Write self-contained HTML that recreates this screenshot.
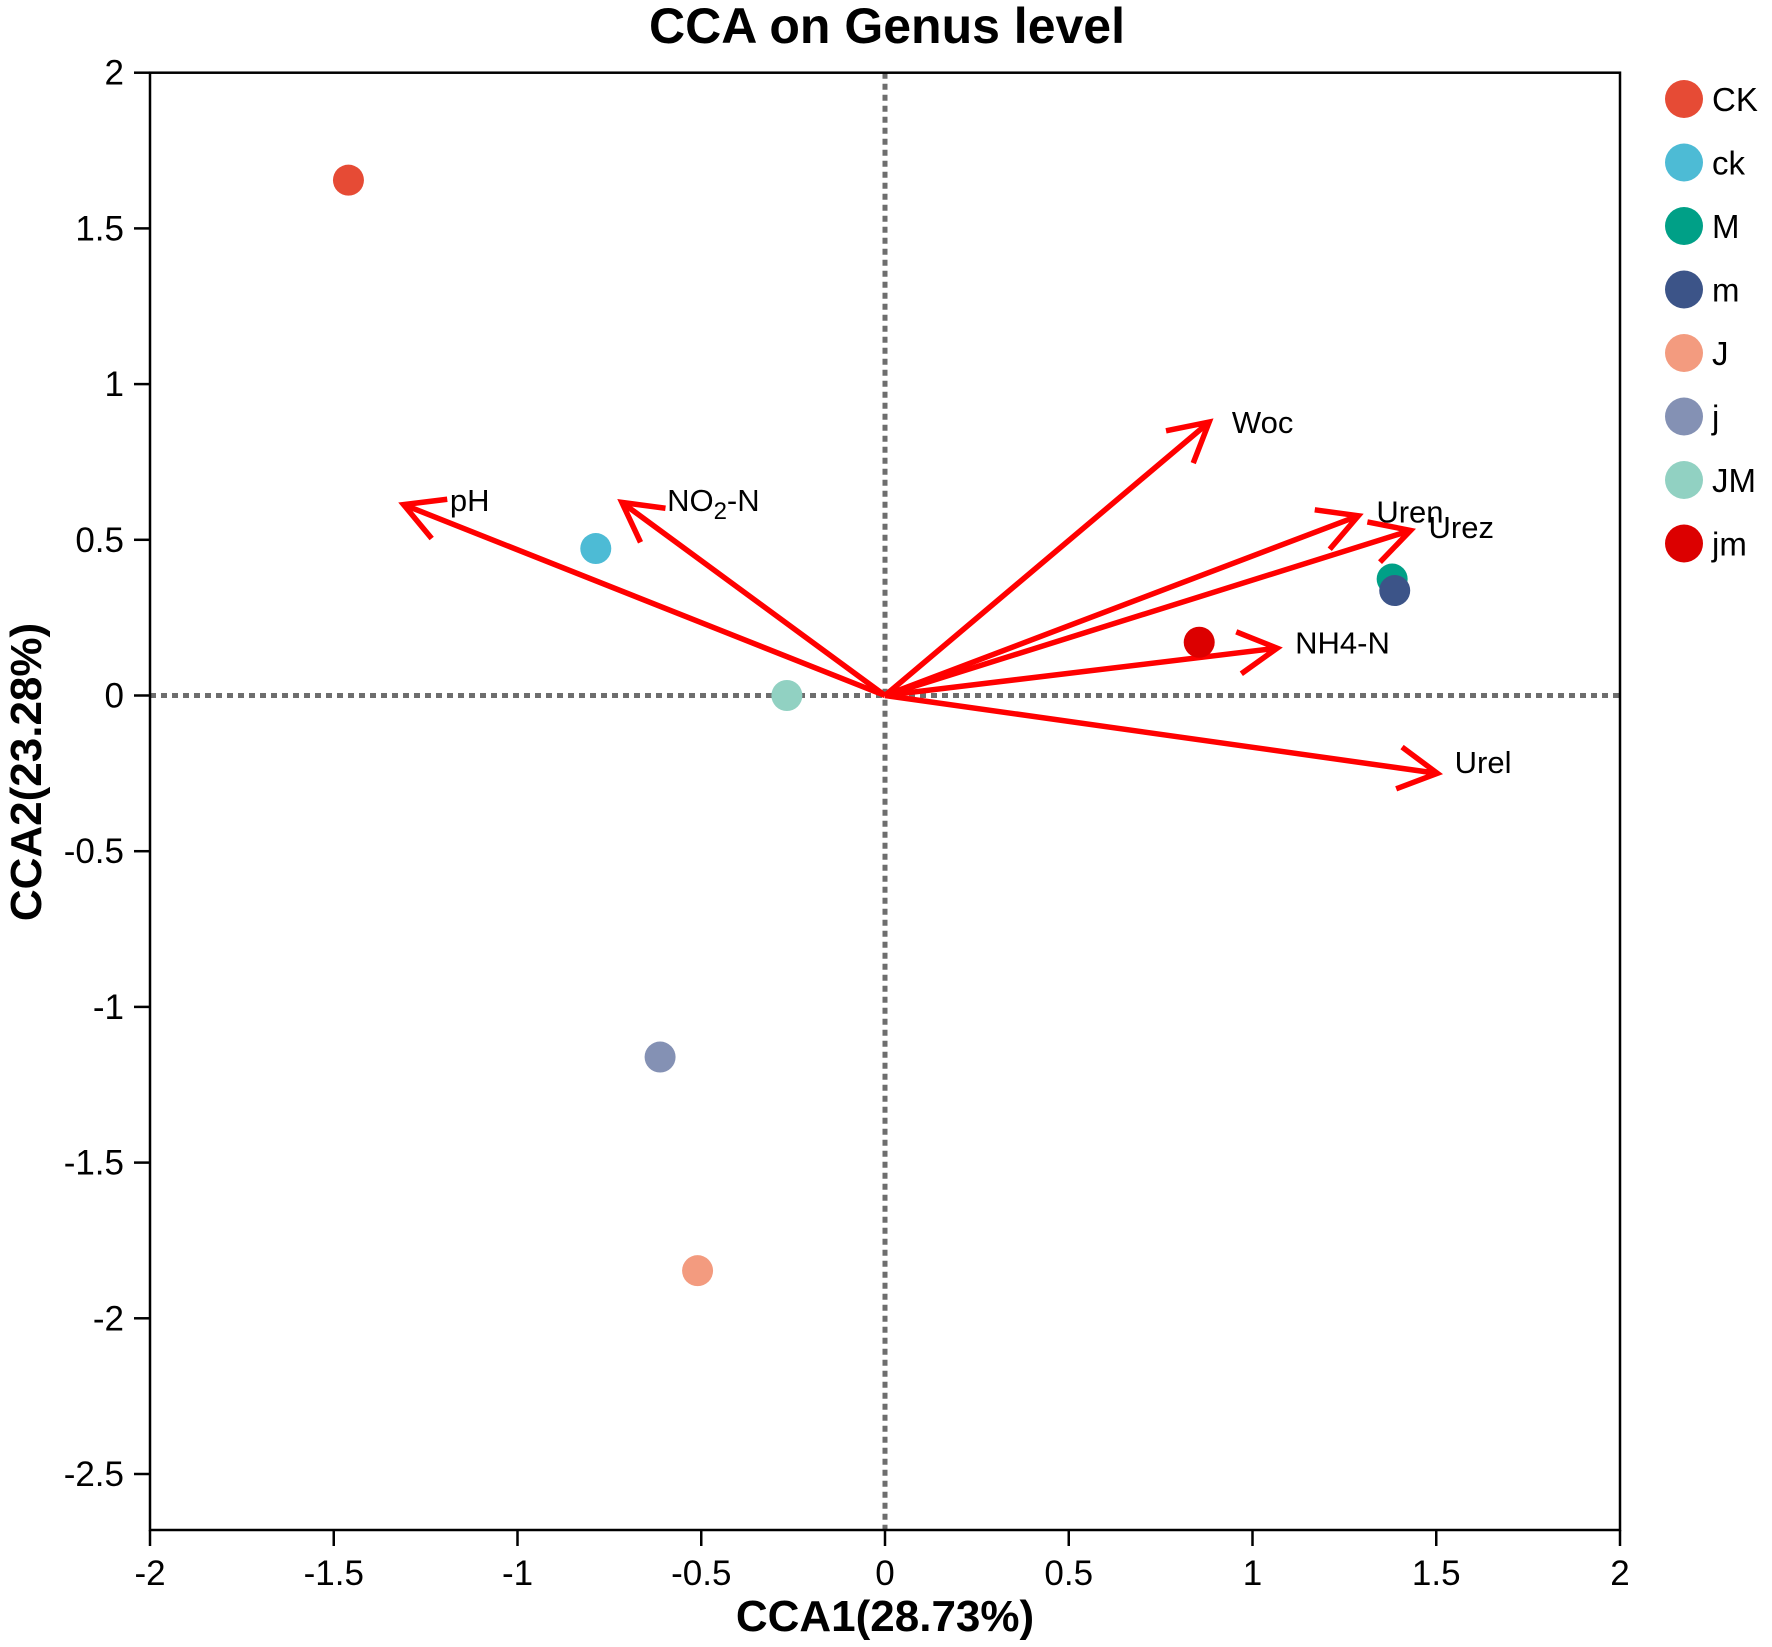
<!DOCTYPE html>
<html><head><meta charset="utf-8"><style>
html,body{margin:0;padding:0;background:#fff;}
svg{display:block;font-family:"Liberation Sans",Arial,sans-serif;}
</style></head><body>
<svg id="chart" width="1772" height="1647" viewBox="0 0 1772 1647" xmlns="http://www.w3.org/2000/svg">
<text x="887" y="43" text-anchor="middle" font-size="50" font-weight="bold">CCA on Genus level</text>
<g id="grid"></g>
<g id="axes"></g>
<g id="arrows"></g>
<g id="points"></g>
<g id="legend"></g>
<text x="885" y="1631" text-anchor="middle" font-size="44" font-weight="bold">CCA1(28.73%)</text>
<text x="0" y="0" transform="translate(41,772) rotate(-90)" text-anchor="middle" font-size="44" font-weight="bold">CCA2(23.28%)</text>
</svg>
<script>
const sampleNames = ["CK","ck","M","m","J","j","JM","jm"];
const sampleColors = ["#e64b35","#4dbbd5","#00a087","#3c5488","#f39b7f","#8491b4","#91d1c2","#dc0000"];
const sampleX = [-1.46,-0.787,1.38,1.387,-0.51,-0.612,-0.267,0.855];
const sampleY = [1.655,0.472,0.374,0.337,-1.847,-1.161,0.0,0.171];
const envNames = ["pH","NO2-N","Woc","Uren","Urez","NH4-N","Urel"];
const envX = [-1.31,-0.716,0.882,1.288,1.43,1.067,1.503];
const envY = [0.613,0.62,0.878,0.577,0.53,0.152,-0.25];
const envLabelX = [-1.184,-0.593,0.944,1.337,1.479,1.116,1.55];
const envLabelY = [0.628,0.628,0.878,0.591,0.541,0.171,-0.214];
const xTicks = [-2,-1.5,-1,-0.5,0,0.5,1,1.5,2];
const yTicks = [2,1.5,1,0.5,0,-0.5,-1,-1.5,-2,-2.5];

const L=150,R=1620,T=72.7,B=1530;
const xMin=-2,xMax=2,yMax=2,yPx=311.4;
const sx=v=>L+(v-xMin)/(xMax-xMin)*(R-L);
const sy=v=>T+(yMax-v)*yPx;
const NS="http://www.w3.org/2000/svg";
function mk(tag,attrs,parent){const e=document.createElementNS(NS,tag);for(const k in attrs)e.setAttribute(k,attrs[k]);parent.appendChild(e);return e;}

const grid=document.getElementById('grid');
let g1=mk('line',{x1:L,x2:R,y1:sy(0),y2:sy(0),stroke:'#6e6e6e',"stroke-width":5,"stroke-dasharray":"6,5"},grid);


let g2=mk('line',{x1:sx(0),x2:sx(0),y1:T,y2:B,stroke:'#6e6e6e',"stroke-width":5,"stroke-dasharray":"6,5"},grid);



const axes=document.getElementById('axes');
let frame=mk('rect',{x:L,y:T,width:R-L,height:B-T,fill:'none',stroke:'#000',"stroke-width":2.5},axes);


xTicks.forEach(v=>{
  const x=sx(v);
  let t=mk('line',{x1:x,x2:x,y1:B,y2:B+16,stroke:'#000',"stroke-width":2.5},axes);
  
  
  let l=mk('text',{x:x,y:B+55,"text-anchor":"middle","font-size":35},axes);
  l.textContent=String(v);
  
  
});
yTicks.forEach(v=>{
  const y=sy(v);
  let t=mk('line',{x1:L-16,x2:L,y1:y,y2:y,stroke:'#000',"stroke-width":2.5},axes);
  
  
  let l=mk('text',{x:L-26,y:y+12,"text-anchor":"end","font-size":35},axes);
  l.textContent=String(v);
  
  
});

const arrows=document.getElementById('arrows');
const ox=sx(0),oy=sy(0);
envNames.forEach((n,i)=>{
  const tx=sx(envX[i]),ty=sy(envY[i]);
  const a=Math.atan2(ty-oy,tx-ox),h=44,w=0.5;
  let p=mk('path',{d:`M${ox},${oy}L${tx},${ty}M${tx-h*Math.cos(a-w)},${ty-h*Math.sin(a-w)}L${tx},${ty}L${tx-h*Math.cos(a+w)},${ty-h*Math.sin(a+w)}`,fill:'none',stroke:'#ff0000',"stroke-width":5.5},arrows);
  
  
  let t=mk('text',{x:sx(envLabelX[i]),y:sy(envLabelY[i])+11,"font-size":31},arrows);
  if(n==="NO2-N"){t.innerHTML='NO<tspan font-size="24" dy="8">2</tspan><tspan dy="-8">-N</tspan>';}
  else t.textContent=n;
  
  
});

const pts=document.getElementById('points');
sampleNames.forEach((n,i)=>{
  let c=mk('circle',{cx:sx(sampleX[i]),cy:sy(sampleY[i]),r:15.5,fill:sampleColors[i]},pts);
  
  
});

const leg=document.getElementById('legend');
sampleNames.forEach((n,i)=>{
  const y=99+i*63.5;
  let c=mk('circle',{cx:1684,cy:y,r:19,fill:sampleColors[i]},leg);
  
  
  let t=mk('text',{x:1712,y:y+12,"font-size":33},leg);
  t.textContent=n;
  
  
});
</script>
</body></html>
